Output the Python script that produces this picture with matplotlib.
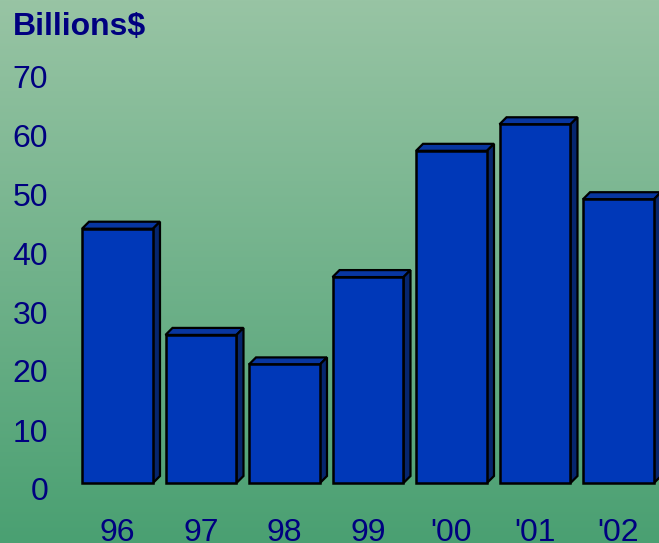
import numpy as np
import matplotlib.pyplot as plt
from matplotlib.patches import Polygon
from matplotlib.transforms import ScaledTranslation

years = ["96", "97", "98", "99", "'00", "'01", "'02"]
billions = [43.1, 25.1, 20.1, 34.9, 56.3, 60.8, 48.1]
yticks = [0, 10, 20, 30, 40, 50, 60, 70]

navy = '#000080'
front = '#0038b8'
top_col = '#0836a0'
side_col = '#06266e'

W, H = 659, 543
fig = plt.figure(figsize=(W / 100, H / 100), dpi=100)

# gradient background
bg = fig.add_axes([0, 0, 1, 1])
grad = np.linspace(0, 1, 256)[:, None]
c_top = np.array([152, 196, 164]) / 255
c_bot = np.array([74, 160, 114]) / 255
img = c_top[None, None, :] * (1 - grad[:, :, None]) + c_bot[None, None, :] * grad[:, :, None]
bg.imshow(img, aspect='auto', extent=[0, 1, 0, 1])
bg.set_axis_off()

# axes: 0 at pixel 483, 70 at pixel 70, left edge at 55 px
ax = fig.add_axes([55 / W, (H - 483) / H, (W - 55) / W, 413 / H])
ax.patch.set_alpha(0)
ax.set_xlim((55 - 117.5) / 83.5, (W - 117.5) / 83.5)
ax.set_ylim(0, 70)

x = np.arange(len(years))
bw = 0.85
dx = 7 / 83.5
dy = 7 / 5.9
for xi, v in zip(x, billions):
    l, r = xi - bw / 2, xi + bw / 2
    ax.add_patch(Polygon([(l, v), (l + dx, v + dy), (r + dx, v + dy), (r, v)],
                         closed=True, facecolor=top_col, edgecolor='black',
                         lw=1.6, clip_on=False, zorder=2))
    ax.add_patch(Polygon([(r, 0), (r + dx, dy), (r + dx, v + dy), (r, v)],
                         closed=True, facecolor=side_col, edgecolor='black',
                         lw=1.6, clip_on=False, zorder=2))
ax.bar(x, billions, width=bw, color=front, edgecolor='black', lw=1.8,
       clip_on=False, zorder=3)

for s in ax.spines.values():
    s.set_visible(False)
ax.set_yticks(yticks)
ax.set_yticklabels([str(t) for t in yticks])
ax.set_xticks(x)
ax.set_xticklabels(years)
ax.tick_params(length=0, labelsize=23, labelcolor=navy)
ax.tick_params(axis='y', pad=5)
ax.tick_params(axis='x', pad=25)
for lab in ax.get_yticklabels() + ax.get_xticklabels():
    lab.set_fontfamily('Liberation Sans')
for lab in ax.get_yticklabels():
    lab.set_transform(lab.get_transform() + ScaledTranslation(0, -0.06, fig.dpi_scale_trans))

fig.text(13 / W, 1 - 35 / H, 'Billions$', fontsize=23, fontweight='bold',
         color=navy, family='Liberation Sans', ha='left', va='baseline')

fig.savefig('out.png', dpi=100)
